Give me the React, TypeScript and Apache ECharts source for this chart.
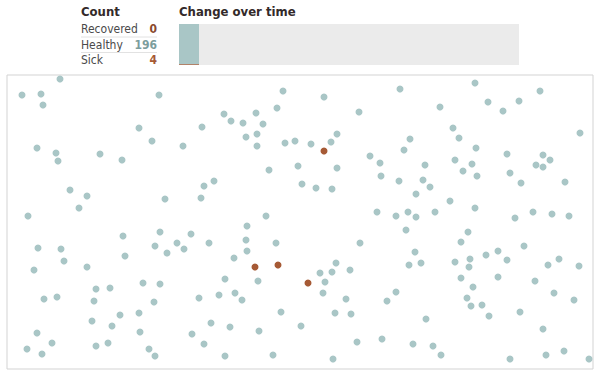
import React, { useEffect, useRef } from "react";
import * as echarts from "echarts";

// Simulation space: 586 x 294 units (x right, y down)
const healthyDots: number[][] = [
  [53, 4], [15, 20], [34, 19], [36, 30], [152, 20], [276, 16], [270, 33], [217, 39], [224, 46], [236, 48],
  [249, 38], [256, 49], [239, 62], [250, 59], [250, 71], [278, 68], [288, 66], [291, 91], [195, 52], [132, 53],
  [145, 66], [176, 71], [30, 73], [49, 78], [51, 86], [93, 79], [115, 85], [262, 95], [207, 106], [197, 111],
  [63, 115], [80, 121], [72, 133], [158, 124], [194, 123], [21, 141], [259, 141],
  [468, 8], [393, 14], [317, 22], [533, 16], [481, 27], [512, 26], [433, 32], [496, 36], [352, 37], [573, 58],
  [446, 53], [452, 63], [330, 59], [324, 67], [304, 69], [403, 64], [397, 75], [469, 73], [500, 79], [536, 80],
  [543, 85], [529, 90], [536, 92], [363, 81], [373, 88], [330, 93], [418, 90], [448, 85], [465, 89], [456, 96],
  [470, 101], [374, 101], [392, 106], [416, 105], [423, 112], [295, 109], [309, 113], [325, 114], [503, 98], [514, 108],
  [558, 107], [409, 119], [443, 126], [370, 137], [389, 141], [401, 137], [409, 142], [428, 137], [468, 133], [508, 143],
  [526, 137], [545, 139], [562, 141],
  [240, 151], [116, 161], [153, 157], [184, 159], [170, 168], [148, 171], [160, 178], [177, 174], [202, 168], [239, 165],
  [240, 176], [269, 168], [31, 173], [54, 174], [57, 186], [118, 181], [80, 192], [27, 195], [227, 183], [251, 206],
  [218, 204], [136, 208], [153, 209], [89, 214], [103, 213], [37, 224], [50, 222], [87, 226], [147, 227], [192, 223],
  [212, 220], [228, 218], [235, 225], [274, 237], [113, 240], [132, 238], [85, 246], [105, 251], [204, 248], [223, 252],
  [294, 251], [30, 258], [133, 257], [185, 259], [252, 256], [45, 268], [20, 274], [35, 279], [89, 271], [101, 268],
  [142, 274], [148, 281], [197, 269], [218, 281], [266, 280],
  [399, 155], [461, 157], [454, 167], [517, 171], [353, 168], [408, 177], [479, 180], [491, 176], [500, 185], [463, 184],
  [462, 192], [448, 187], [414, 188], [402, 190], [329, 188], [325, 197], [313, 198], [343, 195], [318, 207], [316, 218],
  [339, 224], [454, 203], [491, 202], [466, 212], [460, 223], [464, 231], [475, 230], [482, 241], [541, 190], [552, 184],
  [572, 191], [528, 206], [547, 218], [567, 225], [513, 237], [389, 217], [380, 226], [328, 238], [344, 239], [419, 244],
  [536, 254], [350, 267], [375, 264], [406, 269], [426, 271], [434, 280], [326, 284], [503, 284], [539, 280], [557, 276],
  [582, 284],
];
const sickDots: number[][] = [[317, 76], [248, 192], [271, 190], [301, 208]];
const recoveredDots: number[][] = [];

// Change over time (stacked), one step recorded so far out of the time window
const TIME_WINDOW = 17;
const sickOverTime = [4];
const healthyOverTime = [196];
const recoveredOverTime = [0];

const statusLabels = ["Recovered", "Healthy", "Sick"];
const statusCounts = [recoveredDots.length, healthyDots.length, sickDots.length];

const TEAL = "#a9c6c6";
const SICK = "#a65a35";
const REC = "#8b4a2e";
const FONT = "'Liberation Sans Narrow', 'DejaVu Sans Condensed', 'Roboto', sans-serif";

export default function App() {
  const ref = useRef<HTMLDivElement>(null);
  useEffect(() => {
    if (!ref.current) return;
    const chart = echarts.init(ref.current, undefined, { renderer: "svg" });
    const numColors = [REC, "#7c9d9d", SICK];
    const rowY = [29, 44.5, 60];
    const graphics: any[] = [
      { type: "text", left: 81, top: 5, style: { text: "Count", font: `bold 13px ${FONT}`, fill: "#332a2a" } },
      { type: "text", left: 179, top: 5, style: { text: "Change over time", font: `bold 13px ${FONT}`, fill: "#332a2a" } },
      { type: "line", shape: { x1: 81, y1: 37, x2: 157, y2: 37 }, style: { stroke: "#e2e2e2", lineWidth: 1 } },
      { type: "line", shape: { x1: 81, y1: 52.5, x2: 157, y2: 52.5 }, style: { stroke: "#e2e2e2", lineWidth: 1 } },
    ];
    statusLabels.forEach((lab, i) => {
      graphics.push({
        type: "text", x: 81, y: rowY[i],
        style: { text: lab, font: `12px ${FONT}`, fill: "#4a4a4a", verticalAlign: "middle", align: "left" },
      });
      graphics.push({
        type: "text", x: 157, y: rowY[i],
        style: { text: String(statusCounts[i]), font: `bold 12px ${FONT}`, fill: numColors[i], verticalAlign: "middle", align: "right" },
      });
    });
    const steps = Array.from({ length: TIME_WINDOW }, (_, i) => String(i));
    const barCommon = { type: "bar", xAxisIndex: 0, yAxisIndex: 0, stack: "t", barWidth: "100%", barCategoryGap: "0%" };
    chart.setOption({
      animation: false,
      grid: [
        { left: 179, top: 24, width: 340, height: 41, show: true, backgroundColor: "#ebebeb", borderWidth: 0 },
        { left: 7, top: 75, width: 586, height: 294, show: true, backgroundColor: "#ffffff", borderColor: "#d3d3d3", borderWidth: 1 },
      ],
      xAxis: [
        { gridIndex: 0, type: "category", data: steps, show: false, boundaryGap: true },
        { gridIndex: 1, type: "value", min: 0, max: 586, show: false },
      ],
      yAxis: [
        { gridIndex: 0, type: "value", min: 0, max: 200, show: false },
        { gridIndex: 1, type: "value", min: 0, max: 294, inverse: true, show: false },
      ],
      graphic: graphics,
      series: [
        { ...barCommon, data: sickOverTime, itemStyle: { color: SICK } },
        { ...barCommon, data: healthyOverTime, itemStyle: { color: TEAL } },
        { ...barCommon, data: recoveredOverTime, itemStyle: { color: REC } },
        { type: "scatter", xAxisIndex: 1, yAxisIndex: 1, data: healthyDots, symbolSize: 7, itemStyle: { color: TEAL, opacity: 1 } },
        { type: "scatter", xAxisIndex: 1, yAxisIndex: 1, data: recoveredDots, symbolSize: 7, itemStyle: { color: REC, opacity: 1 } },
        { type: "scatter", xAxisIndex: 1, yAxisIndex: 1, data: sickDots, symbolSize: 7, itemStyle: { color: SICK, opacity: 1 } },
      ],
    });
    return () => chart.dispose();
  }, []);
  return (
    <div style={{ position: "fixed", left: 0, top: 0, width: 600, height: 375, background: "#fff" }}>
      <div ref={ref} style={{ width: 600, height: 375 }} />
    </div>
  );
}
